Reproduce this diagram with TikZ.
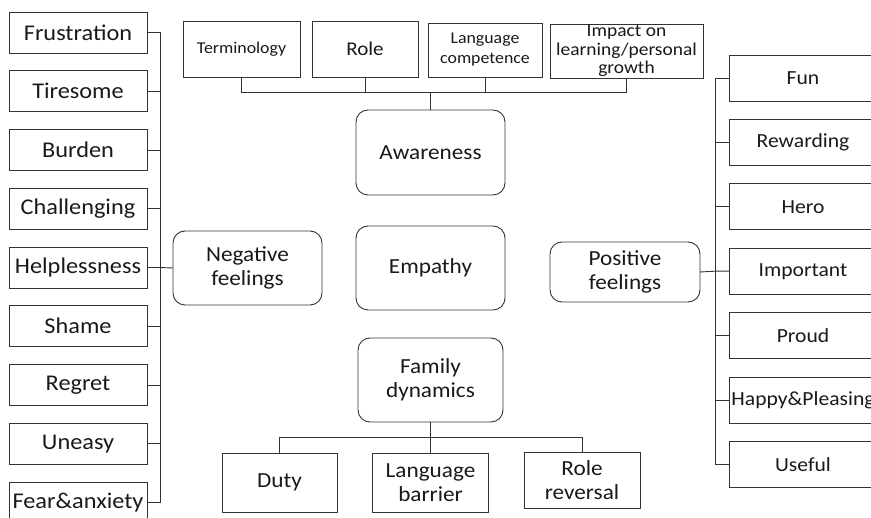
\documentclass[tikz,border=0pt]{standalone}
\usepackage{fontspec}
\setmainfont[FakeStretch=1.08]{Carlito}
\usetikzlibrary{positioning}
\newcommand{\txtbig}{\fontsize{21.5}{24}\selectfont}
\newcommand{\txtleft}{\fontsize{22.5}{25}\selectfont}
\newcommand{\txtright}{\fontsize{20}{24}\selectfont}
\newcommand{\txtrole}{\fontsize{19.5}{22}\selectfont}
\newcommand{\txtsmall}{\fontsize{16.5}{20}\selectfont}
\newcommand{\txttiny}{\fontsize{18}{18.7}\selectfont}

\begin{document}
\begin{tikzpicture}[x=1pt,y=-1pt,line width=0.9pt,draw=black!80,
  every node/.style={font=\txtbig,align=center,text=black!90},
  rectnodes/.style args={#1,#2}{draw=black!80,inner sep=0pt,outer sep=0pt,minimum width=#1pt,minimum height=#2pt},
  rectnode/.style args={#1,#2}{rectnodes={#1,#2},rounded corners=12pt},
  leaf/.style={rectnodes={138,41},font=\txtleft},
  pleaf/.style={rectnodes={148,46},font=\txtright}]
  \useasboundingbox (0,0) rectangle (871,518);

  % negative feelings
  \node [leaf] (frus) at (78,32.5) {Frustration};
  \node [leaf,below=17.75pt of frus] (tire) {Tiresome};
  \node [leaf,below=17.75pt of tire] (burd) {Burden};
  \node [leaf,below=17.75pt of burd] (chal) {Challenging};
  \node [leaf,below=17.75pt of chal] (help) {Helplessness};
  \node [leaf,below=17.75pt of help] (sham) {Shame};
  \node [leaf,below=17.75pt of sham] (regr) {Regret};
  \node [leaf,below=17.75pt of regr] (unea) {Uneasy};
  \node [leaf,below=17.75pt of unea] (fear) {\raisebox{1.5pt}{Fear\&anxiety}};
  \node [rectnode={149,74}] (neg) at (247.5,268) {Negative\\feelings};

  % awareness
  \node [rectnodes={117,56},font=\txtsmall] (term) at (241.5,49) {Terminology};
  \node [rectnodes={106,56},font=\txtrole] (role) at (365,49) {Role};
  \node [rectnodes={114,54},font=\txtsmall] (lang) at (485,50) {Language\\competence};
  \node [rectnodes={153,54},font=\txttiny] (imp) at (626.5,51) {Impact on\\learning/personal\\growth};
  \node [rectnode={149,85}] (aware) at (430.5,152.5) {Awareness};
  \node [rectnode={149,84}] (emp) at (430.5,268) {Empathy};

  % family dynamics
  \node [rectnode={145,84}] (fam) at (430.5,380) {Family\\dynamics};
  \node [rectnodes={115,59}] (duty) at (279.5,482.5) {Duty};
  \node [rectnodes={116,59}] (lbar) at (430.5,482.5) {Language\\barrier};
  \node [rectnodes={116,56}] (rrev) at (582,480) {Role\\reversal};

  % positive feelings
  \node [pleaf] (fun) at (803,78) {Fun};
  \node [pleaf,below=18.4pt of fun] (rew) {Rewarding};
  \node [pleaf,below=18.4pt of rew] (hero) {Hero};
  \node [pleaf,below=18.4pt of hero] (impt) {Important};
  \node [pleaf,below=18.4pt of impt] (prou) {Proud};
  \node [pleaf,below=18.4pt of prou] (happ) {Happy\&Pleasing};
  \node [pleaf,below=18.4pt of happ] (usef) {Useful};
  \node [rectnode={150,60}] (pos) at (625,272) {Positive\\feelings};

  \coordinate (nbar) at (160,0);
  \coordinate (abar) at (0,92);
  \coordinate (fbar) at (0,437);
  \coordinate (pbar) at (715,0);

  \draw (frus.east) -- (frus.east -| nbar) -- (fear.east -| nbar) -- (fear.east);
  \draw (tire.east) -- (tire.east -| nbar);
  \draw (burd.east) -- (burd.east -| nbar);
  \draw (chal.east) -- (chal.east -| nbar);
  \draw (help.east) -- (help.east -| nbar) -- (neg.west);
  \draw (sham.east) -- (sham.east -| nbar);
  \draw (regr.east) -- (regr.east -| nbar);
  \draw (unea.east) -- (unea.east -| nbar);

  \draw (term.south) -- (term.south |- abar) -- (imp.south |- abar) -- (imp.south);
  \draw (role.south) -- (role.south |- abar);
  \draw (lang.south) -- (lang.south |- abar);
  \draw (aware.north |- abar) -- (aware.north);

  \draw (duty.north) -- (duty.north |- fbar) -- (rrev.north |- fbar) -- (rrev.north);
  \draw (fam.south) -- (lbar.north);

  \draw (fun.west) -- (fun.west -| pbar) -- (usef.west -| pbar) -- (usef.west);
  \draw (rew.west) -- (rew.west -| pbar);
  \draw (hero.west) -- (hero.west -| pbar);
  \draw (impt.west) -- (impt.west -| pbar) -- (pos.east);
  \draw (prou.west) -- (prou.west -| pbar);
  \draw (happ.west) -- (happ.west -| pbar);
\end{tikzpicture}
\end{document}
